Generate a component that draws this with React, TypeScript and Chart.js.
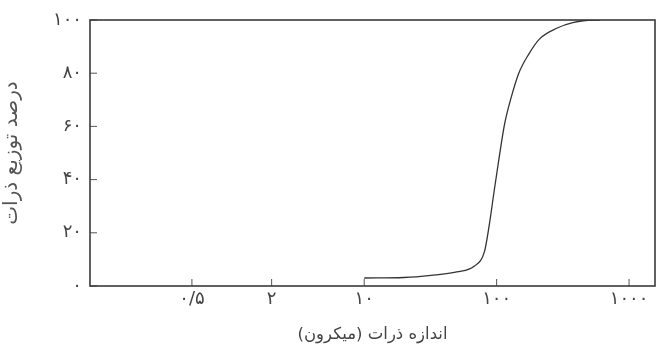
import React, { useEffect, useRef } from "react";
import { Chart, registerables } from "chart.js";
Chart.register(...registerables);

const sizes = [10, 20, 32, 50, 68, 81, 88, 96, 105, 115, 129, 147, 174, 212, 287, 376, 530, 600];
const percents = [3, 3.2, 4, 5.3, 7.5, 13, 23, 36, 49, 61, 71, 80, 87, 93, 97, 99, 100, 100];
const xTicks = [0.5, 2, 10, 100, 1000];
const xTickLabels = ["۰/۵", "۲", "۱۰", "۱۰۰", "۱۰۰۰"];
const yTicks = [0, 20, 40, 60, 80, 100];
const yTickLabels = ["۰", "۲۰", "۴۰", "۶۰", "۸۰", "۱۰۰"];
const xTitle = "اندازه ذرات (میکرون)";
const yTitle = "درصد توزیع ذرات";

const FONT = "'DejaVu Sans', sans-serif";

const framePlugin = {
  id: "frame",
  afterDraw(chart: any) {
    const { ctx, chartArea: a, scales } = chart;
    ctx.save();
    ctx.strokeStyle = "#555";
    ctx.lineWidth = 1;
    xTicks.forEach((v) => {
      const px = scales.x.getPixelForValue(v);
      ctx.beginPath();
      ctx.moveTo(px, a.bottom);
      ctx.lineTo(px, a.bottom - 7);
      ctx.stroke();
    });
    yTicks.forEach((v) => {
      const py = scales.y.getPixelForValue(v);
      ctx.beginPath();
      ctx.moveTo(a.left, py);
      ctx.lineTo(a.left + 7, py);
      ctx.stroke();
    });
    ctx.strokeStyle = "#3a3a3a";
    ctx.lineWidth = 1.6;
    ctx.strokeRect(a.left, a.top, a.right - a.left, a.bottom - a.top);
    ctx.restore();
  },
};

export default function App() {
  const ref = useRef<HTMLCanvasElement>(null);
  useEffect(() => {
    const chart = new Chart(ref.current as HTMLCanvasElement, {
      type: "line",
      data: {
        datasets: [
          {
            data: sizes.map((s, i) => ({ x: s, y: percents[i] })),
            borderColor: "#333",
            borderWidth: 1.3,
            pointRadius: 0,
            fill: false,
            cubicInterpolationMode: "monotone",
          },
        ],
      },
      options: {
        animation: false,
        responsive: false,
        maintainAspectRatio: false,
        layout: { padding: { top: 20, right: 3, left: 0, bottom: 0 } },
        plugins: { legend: { display: false }, tooltip: { enabled: false } },
        scales: {
          x: {
            type: "logarithmic",
            min: 0.085,
            max: 1570,
            afterBuildTicks: (axis: any) => {
              axis.ticks = xTicks.map((v) => ({ value: v }));
            },
            afterFit: (axis: any) => {
              axis.height = 69;
            },
            grid: { display: false, drawTicks: false },
            border: { display: false },
            ticks: {
              autoSkip: false,
              maxRotation: 0,
              padding: 3,
              color: "#444",
              font: { family: FONT, size: 18 },
              callback: (_v: any, i: number) => xTickLabels[i],
            },
            title: {
              display: true,
              text: xTitle,
              color: "#444",
              font: { family: FONT, size: 16.5 },
              padding: { top: 0, bottom: 10 },
            },
          },
          y: {
            type: "linear",
            min: 0,
            max: 100,
            afterBuildTicks: (axis: any) => {
              axis.ticks = yTicks.map((v) => ({ value: v }));
            },
            afterFit: (axis: any) => {
              axis.width = 90;
            },
            grid: { display: false, drawTicks: false },
            border: { display: false },
            ticks: {
              autoSkip: false,
              padding: 8,
              color: "#444",
              font: { family: FONT, size: 18 },
              callback: (_v: any, i: number) => yTickLabels[i],
            },
            title: {
              display: true,
              text: yTitle,
              color: "#555",
              font: { family: FONT, size: 20 },
              padding: { top: 0, bottom: 0 },
            },
          },
        },
      },
      plugins: [framePlugin],
    } as any);
    return () => chart.destroy();
  }, []);
  return (
    <div style={{ position: "fixed", left: 0, top: 0, width: 658, height: 355, background: "#fff" }}>
      <canvas ref={ref} width={658} height={355} />
    </div>
  );
}
